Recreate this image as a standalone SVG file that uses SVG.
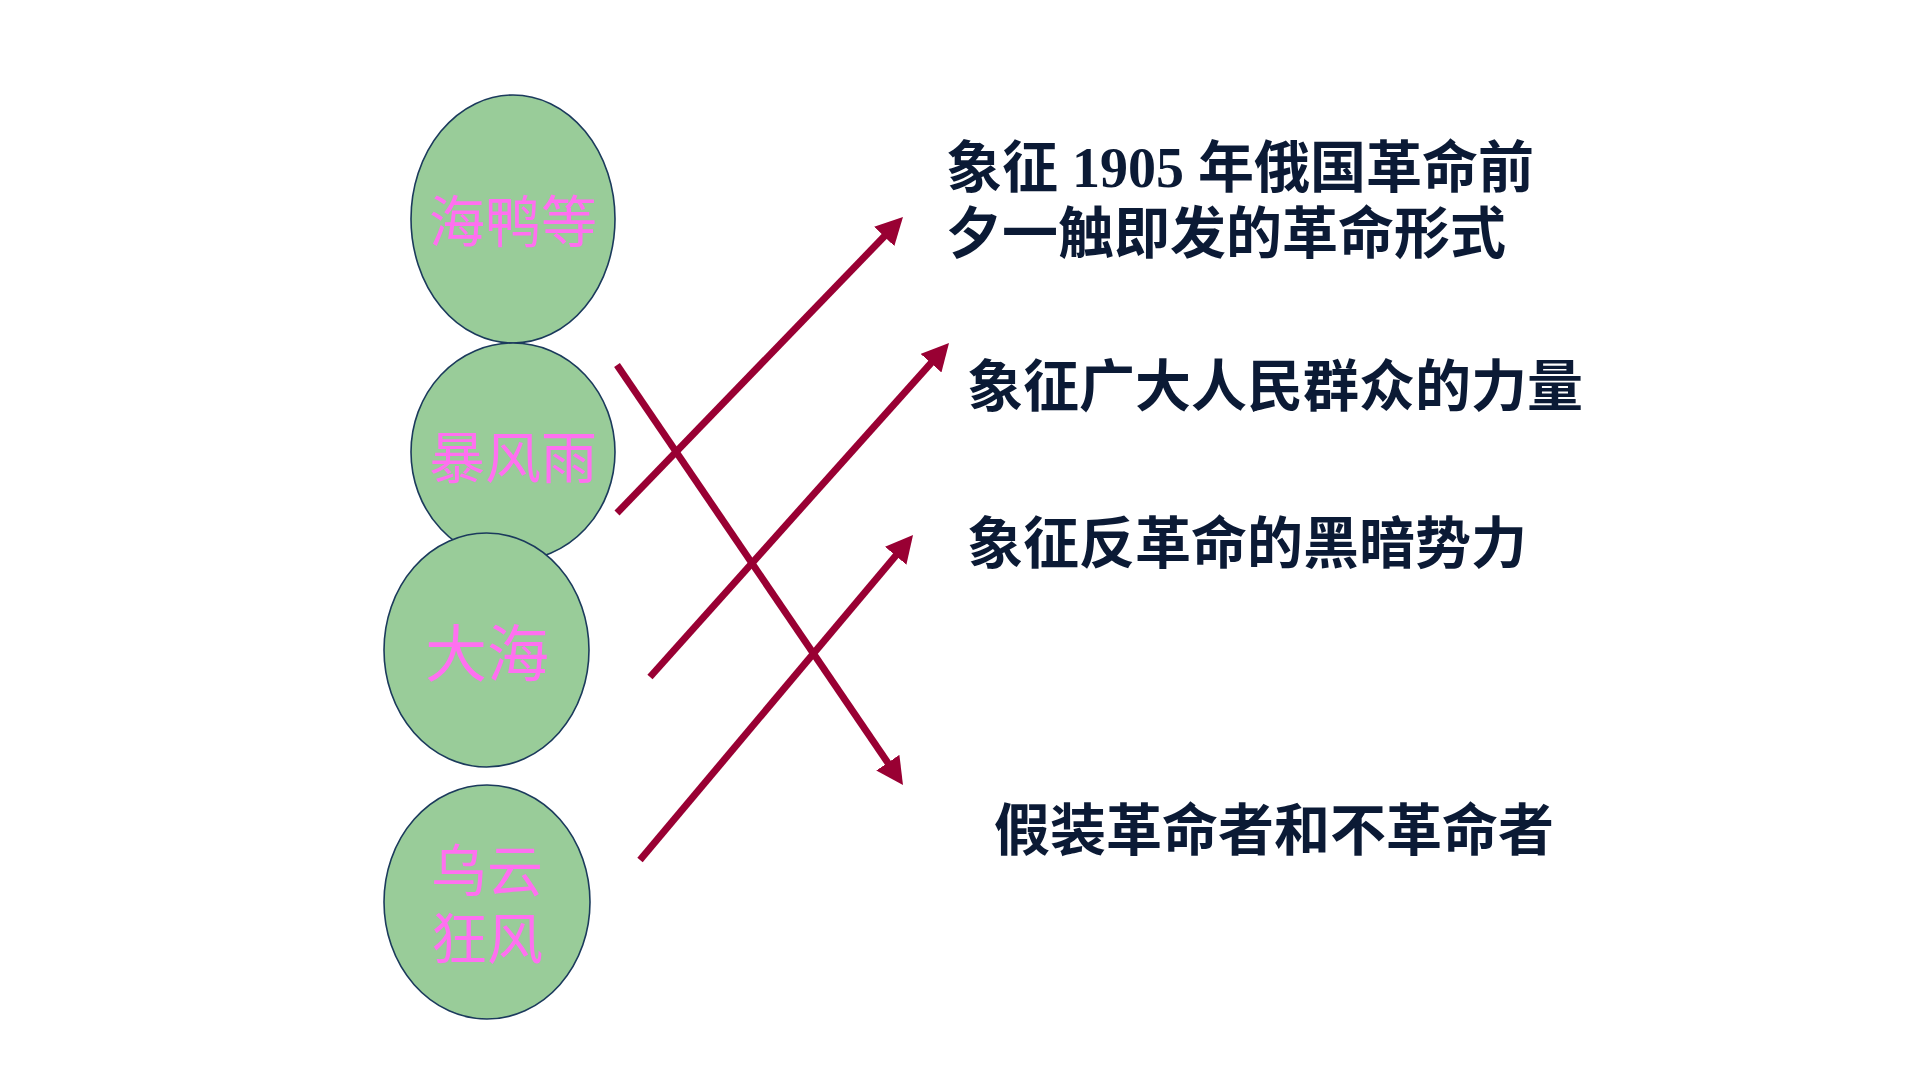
<svg xmlns="http://www.w3.org/2000/svg" width="1920" height="1080" viewBox="0 0 1920 1080">
<style>
.node ellipse{fill:#99CC99;stroke:#1B3A5C;stroke-width:1.6}
.lbl{font-family:"Liberation Sans","Noto Sans CJK SC",sans-serif;font-size:56px;fill:#FF70F0;text-anchor:middle}
.txt{font-family:"Liberation Serif","Noto Sans CJK SC",serif;font-size:56px;font-weight:bold;fill:#0B1A35}
.conn line{stroke:#990033;stroke-width:7;fill:none;marker-end:url(#ah)}
</style>
<defs>
<marker id="ah" markerUnits="userSpaceOnUse" viewBox="0 -14 27 28" markerWidth="27" markerHeight="28" refX="3" refY="0" orient="auto">
<path d="M0,-14 L27,0 L0,14 Z" fill="#990033"/>
</marker>
</defs>
<rect width="1920" height="1080" fill="#FFFFFF"/>
<g id="node-haiya" class="node">
<ellipse cx="513" cy="219" rx="102" ry="124"/>
<text class="lbl" x="513" y="242">海鸭等</text>
</g>
<g id="node-baofengyu" class="node">
<ellipse cx="513" cy="452" rx="102" ry="109"/>
<text class="lbl" x="513" y="478">暴风雨</text>
</g>
<g id="node-dahai" class="node">
<ellipse cx="486.5" cy="650" rx="102.5" ry="117"/>
<text class="lbl" x="487" y="677" style="font-size:62px">大海</text>
</g>
<g id="node-wuyun" class="node">
<ellipse cx="487" cy="902" rx="103" ry="117"/>
<text class="lbl" x="487" y="891"><tspan x="487" y="891">乌云</tspan><tspan x="487" y="959">狂风</tspan></text>
</g>
<g id="label-1905">
<text class="txt" x="946" y="187"><tspan x="946" y="187">象征 1905 年俄国革命前</tspan><tspan x="946" y="253">夕一触即发的革命形式</tspan></text>
</g>
<g id="label-qunzhong">
<text class="txt" x="967" y="406">象征广大人民群众的力量</text>
</g>
<g id="label-fangeming">
<text class="txt" x="967" y="563">象征反革命的黑暗势力</text>
</g>
<g id="label-jiazhuang">
<text class="txt" x="994" y="850">假装革命者和不革命者</text>
</g>
<g id="connectors" class="conn">
<line x1="617" y1="513" x2="886.3" y2="234.3"/>
<line x1="617" y1="365" x2="889.5" y2="765.2"/>
<line x1="650" y1="677" x2="933" y2="360.9"/>
<line x1="640" y1="860" x2="897.6" y2="553.4"/>
</g>
</svg>
